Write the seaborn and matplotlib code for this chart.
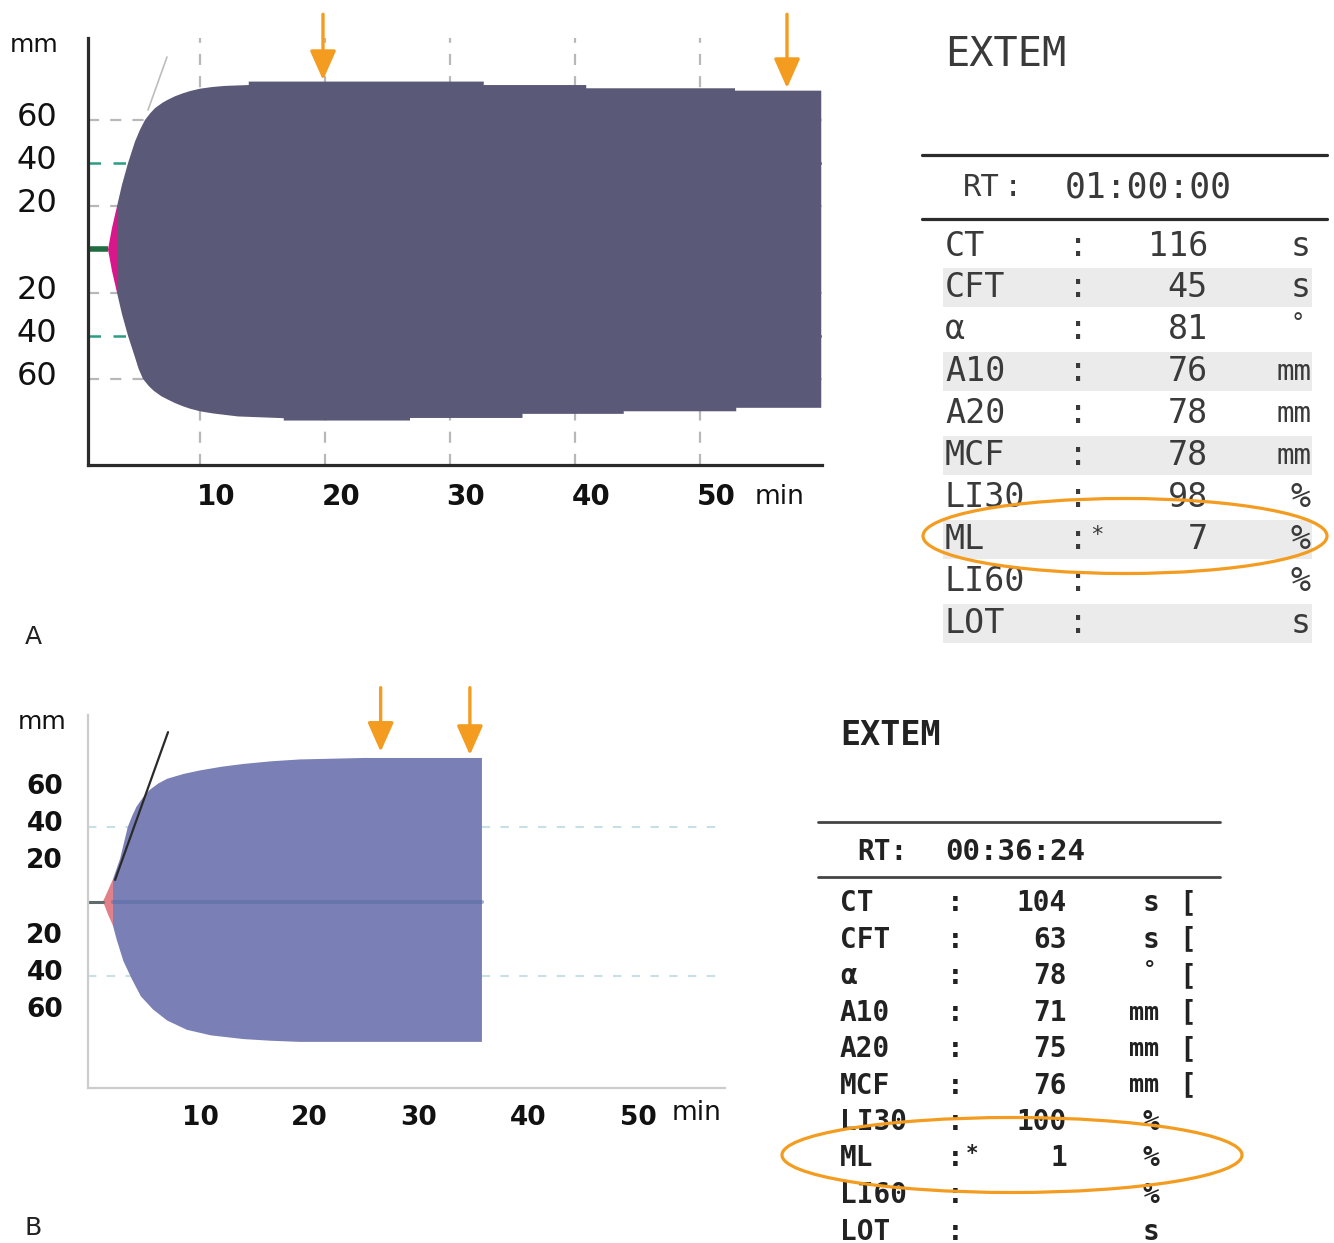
import numpy as np
import matplotlib
matplotlib.use("Agg")
import matplotlib.pyplot as plt
import seaborn as sns
import pandas as pd
from matplotlib.patches import Ellipse, Rectangle
from matplotlib.transforms import ScaledTranslation

# ---------------- data ----------------
# Panel A trace (time in min, amplitude in mm)
a_t_up = [2.64, 2.96, 3.36, 3.76, 4.24, 4.8, 5.2, 5.6, 6.0, 6.4, 7.0, 7.4, 8.0, 8.6, 9.2, 10.0,
          11.0, 12.0, 13.9, 13.9, 32.7, 32.7, 40.9, 40.9, 52.8, 52.8, 59.7]
a_amp_up = [0, 10, 20, 30, 40, 50, 55.5, 60, 63, 65.5, 68, 69.3, 71, 72.3, 73.4, 74.5,
            75.3, 75.8, 76.2, 77.8, 77.8, 76.2, 76.2, 74.7, 74.7, 73.6, 73.6]
a_t_lo = [2.64, 2.96, 3.36, 3.76, 4.24, 4.8, 5.1, 5.44, 5.9, 6.3, 6.9, 7.4, 8.0, 8.6, 9.2, 10.0,
          11.04, 13.04, 16.7, 16.7, 26.8, 26.8, 35.8, 35.8, 43.9, 43.9, 52.9, 52.9, 59.7]
a_amp_lo = [0, 10, 20, 30, 40, 50, 55.5, 60, 63.3, 65.5, 68, 69.5, 71.2, 72.6, 73.8, 75.0,
            76.0, 77.4, 78.2, 79.3, 79.3, 78.1, 78.1, 76.2, 76.2, 75.0, 75.0, 73.4, 73.4]
a_pink_end = 3.36
a_arrows_t = [19.84, 56.96]
a_arrows_tip = [78.5, 74.8]
a_arrow_tail = 109
a_tangent_t = [5.84, 7.36]
a_tangent_amp = [64.6, 89.2]

# Panel B trace
b_t_up = [1.14, 1.6, 2.05, 2.7, 3.4, 3.8, 4.2, 4.8, 5.4, 6.2, 7.0, 8.5, 10.0, 12.0, 14.0,
          16.5, 19.1, 25.0, 35.75]
b_amp_up = [0, 6, 12, 23, 40, 46, 51, 56, 60, 63.5, 66, 68.6, 70.5, 72.5, 74, 75.4,
            76.4, 77.2, 77.2]
b_t_lo = [1.14, 1.6, 2.05, 2.4, 3.0, 3.8, 4.6, 5.7, 7.0, 8.8, 11.0, 14.0, 16.5, 19.1, 35.75]
b_amp_lo = [0, 7, 13, 20.7, 32, 42, 51, 58, 64, 69, 72, 74, 74.9, 75.5, 75.5]
b_pink_end = 2.05
b_arrows_t = [26.5, 34.65]
b_arrows_tip = [80.5, 78.8]
b_arrow_tail = 115
b_tangent_t = [2.24, 7.08]
b_tangent_amp = [11.6, 91.1]

x_ticks = [10, 20, 30, 40, 50]
y_ticks = [-60, -40, -20, 20, 40, 60]
y_ticklabels = ["60", "40", "20", "20", "40", "60"]

# Tables
param_names = ["CT", "CFT", "α", "A10", "A20", "MCF", "LI30", "ML", "LI60", "LOT"]
units = ["s", "s", "°", "mm", "mm", "mm", "%", "%", "%", "s"]
a_values = ["116", "45", "81", "76", "78", "78", "98", "7", "", ""]
b_values = ["104", "63", "78", "71", "75", "76", "100", "1", "", ""]
b_brackets = ["[", "[", "[", "[", "[", "[", "", "", "", ""]
a_rt = "01:00:00"
b_rt = "00:36:24"
title = "EXTEM"

# ---------------- style ----------------
sns.set_theme(style="white")
plt.rcParams['font.family'] = ['DejaVu Sans']

W, H = 1334, 1243
fig = plt.figure(figsize=(W / 100, H / 100), dpi=100)
fig.patch.set_facecolor("white")

ORANGE = "#f39c1f"


def px_axes(x0, y0, x1, y1):
    return fig.add_axes([x0 / W, 1 - y1 / H, (x1 - x0) / W, (y1 - y0) / H])


def polygon(t_up, amp_up, t_lo, amp_lo, lo_t, hi_t):
    tu = np.array(t_up); au = np.array(amp_up)
    tl = np.array(t_lo); al = np.array(amp_lo)
    mu = (tu >= lo_t) & (tu <= hi_t)
    ml = (tl >= lo_t) & (tl <= hi_t)
    xs = np.concatenate([tu[mu], tl[ml][::-1]])
    ys = np.concatenate([au[mu], -al[ml][::-1]])
    return xs, ys


def offset_labels(ax, dx_px=0, dy_px=0, axis="x"):
    off = ScaledTranslation(dx_px / 100, dy_px / 100, fig.dpi_scale_trans)
    labels = ax.get_xticklabels() if axis == "x" else ax.get_yticklabels()
    for lb in labels:
        lb.set_transform(lb.get_transform() + off)


# ---------------- Panel A ----------------
axA = px_axes(88, 38, 822, 465)
axA.set_xlim(1.04, 59.76)
axA.set_ylim(-99.9, 98.0)
for v in x_ticks:
    axA.axvline(v, color="#b8b8b8", lw=1.6, ls=(0, (5, 5)), zorder=1)
for v in [-60, -20, 20, 60]:
    axA.axhline(v, color="#b8b8b8", lw=1.6, ls=(0, (5, 5)), zorder=1)
for v in [-40, 40]:
    axA.axhline(v, color="#2a9d84", lw=1.8, ls=(0, (5, 5)), zorder=1)

xs, ys = polygon(a_t_up, a_amp_up, a_t_lo, a_amp_lo, 0, a_pink_end)
axA.fill(xs, ys, color="#d8178a", lw=0, zorder=2)
xs, ys = polygon(a_t_up, a_amp_up, a_t_lo, a_amp_lo, a_pink_end, 100)
axA.fill(xs, ys, color="#5b5978", lw=0, zorder=3)
axA.plot([axA.get_xlim()[0], a_t_up[0]], [0, 0], color="#236b40", lw=4, zorder=2,
         solid_capstyle="butt")
sns.lineplot(x=a_tangent_t, y=a_tangent_amp, ax=axA, color="#bdbdbd", lw=1.2, zorder=4)

for t, tip in zip(a_arrows_t, a_arrows_tip):
    axA.annotate("", xy=(t, tip), xytext=(t, a_arrow_tail),
                 arrowprops=dict(arrowstyle="-|>,head_length=0.9,head_width=0.4",
                                 color=ORANGE, lw=2.4, mutation_scale=20,
                                 shrinkA=0, shrinkB=0),
                 annotation_clip=False, zorder=6)

sns.despine(ax=axA)
for s in ["left", "bottom"]:
    axA.spines[s].set_color("#2b2b2b")
    axA.spines[s].set_linewidth(2.3)
axA.set_xticks(x_ticks)
axA.set_xticklabels([str(v) for v in x_ticks], fontsize=20, fontweight="bold", color="#111")
axA.set_yticks(y_ticks)
axA.set_yticklabels(y_ticklabels, fontsize=23, color="#111")
axA.tick_params(axis="both", length=0)
axA.tick_params(axis="x", pad=13)
axA.tick_params(axis="y", pad=22)
offset_labels(axA, 16, 0, "x")
offset_labels(axA, 0, 6, "y")
axA.set_xlabel(""); axA.set_ylabel("")

# ---------------- Panel B ----------------
axB = px_axes(88, 715, 725, 1088)
axB.set_xlim(-0.23, 57.95)
axB.set_ylim(-100.3, 100.3)
for v in [-40, 40]:
    axB.axhline(v, color="#c9dfe6", lw=1.5, ls=(0, (4, 5)), zorder=1)
xs, ys = polygon(b_t_up, b_amp_up, b_t_lo, b_amp_lo, 0, b_pink_end)
axB.fill(xs, ys, color="#e2808a", lw=0, zorder=2)
xs, ys = polygon(b_t_up, b_amp_up, b_t_lo, b_amp_lo, b_pink_end, 100)
axB.fill(xs, ys, color="#7a80b5", lw=0, zorder=3)
axB.plot([b_pink_end, b_t_up[-1]], [0, 0], color="#5a6ca5", lw=3.0, alpha=0.55, zorder=3.5)
axB.plot([axB.get_xlim()[0], b_t_up[0]], [0, 0], color="#5f6b6b", lw=2.2, zorder=2)
sns.lineplot(x=b_tangent_t, y=b_tangent_amp, ax=axB, color="#2a2a2a", lw=1.6, zorder=4)

for t, tip in zip(b_arrows_t, b_arrows_tip):
    axB.annotate("", xy=(t, tip), xytext=(t, b_arrow_tail),
                 arrowprops=dict(arrowstyle="-|>,head_length=0.9,head_width=0.4",
                                 color=ORANGE, lw=2.4, mutation_scale=20,
                                 shrinkA=0, shrinkB=0),
                 annotation_clip=False, zorder=6)

sns.despine(ax=axB)
for s in ["left", "bottom"]:
    axB.spines[s].set_color("#cccccc")
    axB.spines[s].set_linewidth(1.6)
axB.set_xticks(x_ticks)
axB.set_xticklabels([str(v) for v in x_ticks], fontsize=19, fontweight="bold", color="#111")
axB.set_yticks(y_ticks)
axB.set_yticklabels(y_ticklabels, fontsize=19, fontweight="bold", color="#111")
axB.tick_params(axis="both", length=0)
axB.tick_params(axis="x", pad=12)
axB.tick_params(axis="y", pad=18)
offset_labels(axB, 0, 6, "y")
axB.set_xlabel(""); axB.set_ylabel("")

# ---------------- overlay (labels, tables) ----------------
ov = fig.add_axes([0, 0, 1, 1], zorder=10)
ov.set_xlim(0, W)
ov.set_ylim(H, 0)
ov.axis("off")
ov.patch.set_alpha(0)

ov.text(34, 45, "mm", fontsize=18, ha="center", va="center", color="#111")
ov.text(780, 497, "min", fontsize=19, ha="center", va="center", color="#111")
ov.text(42, 722, "mm", fontsize=18, ha="center", va="center", color="#111")
ov.text(697, 1113, "min", fontsize=19, ha="center", va="center", color="#111")
ov.text(33, 637, "A", fontsize=18, ha="center", va="center", color="#222")
ov.text(33, 1228, "B", fontsize=18, ha="center", va="center", color="#222")

mono = "DejaVu Sans Mono"

# Table A
colA = "#3a3a3a"
FA = 24
ov.text(945, 55, title, fontsize=29, family=mono, ha="left", va="center", color=colA)
ov.plot([922, 1327], [155, 155], color="#2b2b2b", lw=2.3)
ov.plot([922, 1327], [219, 219], color="#2b2b2b", lw=2.3)
ov.text(963, 187, "RT", fontsize=22, family=mono, ha="left", va="center", color=colA)
ov.text(1013, 187, ":", fontsize=22, family=mono, ha="center", va="center", color=colA)
ov.text(1065, 187, a_rt, fontsize=25, family=mono, ha="left", va="center", color=colA)
a_row_y0, a_pitch = 246, 41.9
for i, (nm, val, un) in enumerate(zip(param_names, a_values, units)):
    y = a_row_y0 + i * a_pitch
    if i % 2 == 1:
        ov.add_patch(Rectangle((943, y - 19.5), 369, 39, color="#ebebeb", lw=0, zorder=0))
    ov.text(945, y, nm, fontsize=FA, family=mono, ha="left", va="center", color=colA)
    ov.text(1078, y, ":", fontsize=FA, family=mono, ha="center", va="center", color=colA)
    if nm == "ML":
        ov.text(1097, y - 4, "*", fontsize=16, family=mono, ha="center", va="center", color=colA)
    ov.text(1208, y, val, fontsize=FA, family=mono, ha="right", va="center", color=colA)
    if un == "°":
        ov.text(1305, y - 6, un, fontsize=17, family=mono, ha="right", va="center", color=colA)
    else:
        ov.text(1311, y, un, fontsize=FA if un != "mm" else 21, family=mono,
                ha="right", va="center", color=colA)
ov.add_patch(Ellipse((1125, 536), 404, 75, fill=False, edgecolor=ORANGE, lw=2.3, zorder=5))

# Table B
colB = "#222222"
ov.text(840, 735, title, fontsize=24, family=mono, fontweight="bold", ha="left", va="center", color=colB)
ov.plot([818, 1220], [822, 822], color="#444444", lw=2.0)
ov.plot([818, 1220], [877, 877], color="#444444", lw=2.0)
ov.text(857, 852, "RT:", fontsize=20, family=mono, fontweight="bold", ha="left", va="center", color=colB)
ov.text(945, 852, b_rt, fontsize=21, family=mono, fontweight="bold", ha="left", va="center", color=colB)
b_row_y0, b_pitch = 903, 36.5
for i, (nm, val, un, br) in enumerate(zip(param_names, b_values, units, b_brackets)):
    y = b_row_y0 + i * b_pitch
    ov.text(840, y, nm, fontsize=20, family=mono, fontweight="bold", ha="left", va="center", color=colB)
    ov.text(955, y, ":", fontsize=20, family=mono, fontweight="bold", ha="center", va="center", color=colB)
    if nm == "ML":
        ov.text(972, y - 4, "*", fontsize=15, family=mono, fontweight="bold", ha="center", va="center", color=colB)
    ov.text(1067, y, val, fontsize=20, family=mono, fontweight="bold", ha="right", va="center", color=colB)
    if un == "°":
        ov.text(1156, y - 6, un, fontsize=16, family=mono, fontweight="bold", ha="right", va="center", color=colB)
    else:
        ov.text(1159, y, un, fontsize=20 if un != "mm" else 18, family=mono, fontweight="bold",
                ha="right", va="center", color=colB)
    if br:
        ov.text(1188, y, br, fontsize=20, family=mono, fontweight="bold", ha="center", va="center", color=colB)
ov.add_patch(Ellipse((1012, 1155), 460, 75, fill=False, edgecolor=ORANGE, lw=2.3, zorder=5))

fig.savefig("out.png", dpi=100, facecolor="white")
